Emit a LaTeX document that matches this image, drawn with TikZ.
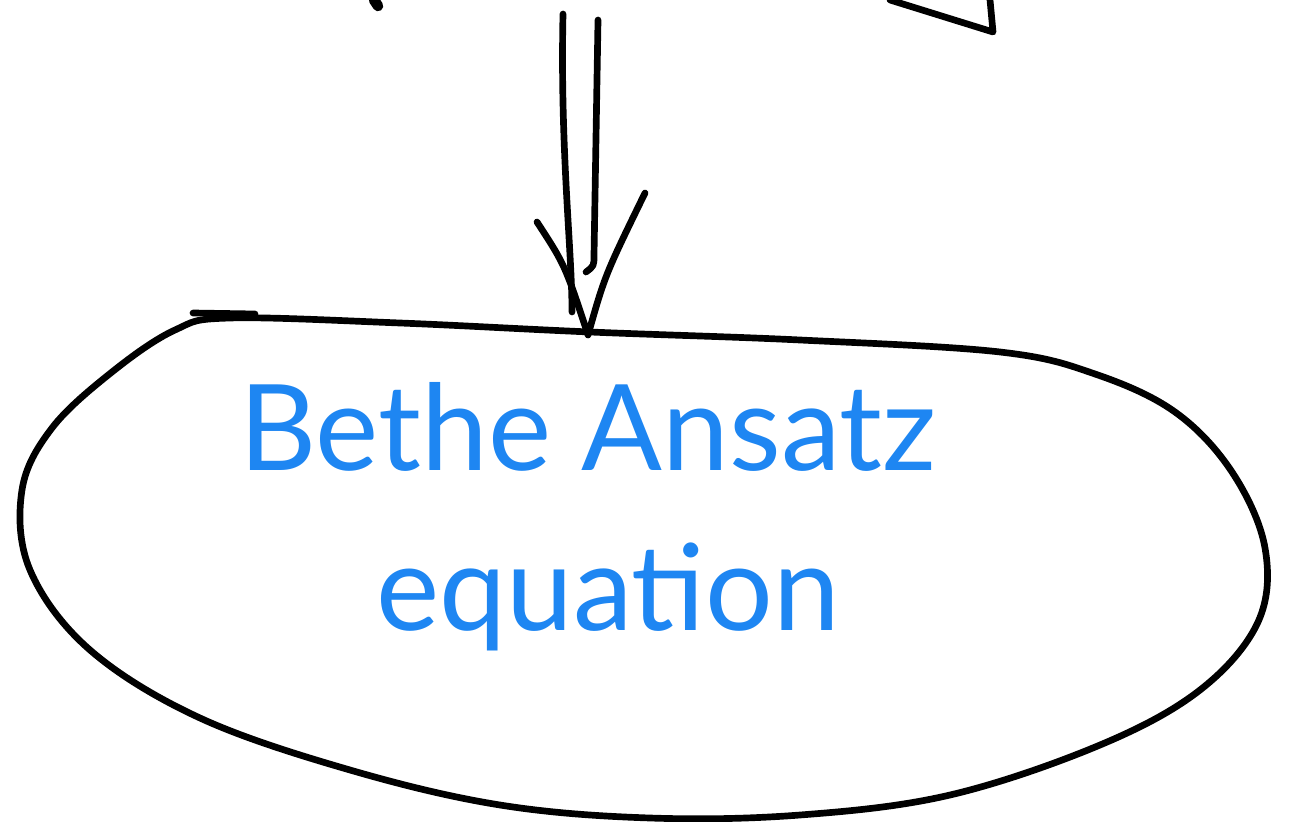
\documentclass[tikz,border=0pt]{standalone}
\usepackage{fontspec}
\setmainfont{Lato}
\usetikzlibrary{calc}
\definecolor{ink}{HTML}{000000}
\definecolor{penblue}{HTML}{1E86F2}
\tikzset{
  pen/.style={draw=ink, line width=1.9pt, line cap=round, line join=round},
  bluetext/.style={text=penblue, inner sep=0pt, anchor=base, font=\fontsize{34}{40}\selectfont},
}

\begin{document}
\begin{tikzpicture}[x=0.01cm, y=-0.01cm]
    \useasboundingbox (0,0) rectangle (1289,822);
    % outline of the equation blob
    \draw[pen] plot[smooth cycle, tension=0.6] coordinates {
      (230,318) (400,323) (590,332) (800,340) (1000,352) (1095,374)
      (1175,412) (1232,472) (1265,548) (1258,622) (1200,690) (1100,745)
      (950,795) (800,815) (650,818) (500,805) (350,770) (200,718)
      (90,650) (30,570) (22,490) (52,428) (112,372) (175,330)};
    \draw[pen] (193,313) -- (255,314);
    \node[bluetext] (bethe) at (588,470) {Bethe Ansatz};
    \node[bluetext] (eqn) at (608,630) {equation};
    % arrow coming down onto the blob
    \coordinate (top) at (588,335);
    \coordinate (srcl) at (563,14);
    \coordinate (srcr) at (598,20);
    \draw[pen] (srcl) .. controls (560,150) and (572,250) .. (572,312);
    \draw[pen] (srcr) -- (594,255) .. controls (594,266) .. (586,272);
    \draw[pen] (537,222) .. controls (565,265) .. (top) .. controls (605,275) .. (645,193);
    % pieces of the shapes above
    \draw[pen, line width=3pt] (374,0) -- (378,6);
    \draw[pen] (890,0) -- (993,32) -- (990,0);
\end{tikzpicture}
\end{document}
